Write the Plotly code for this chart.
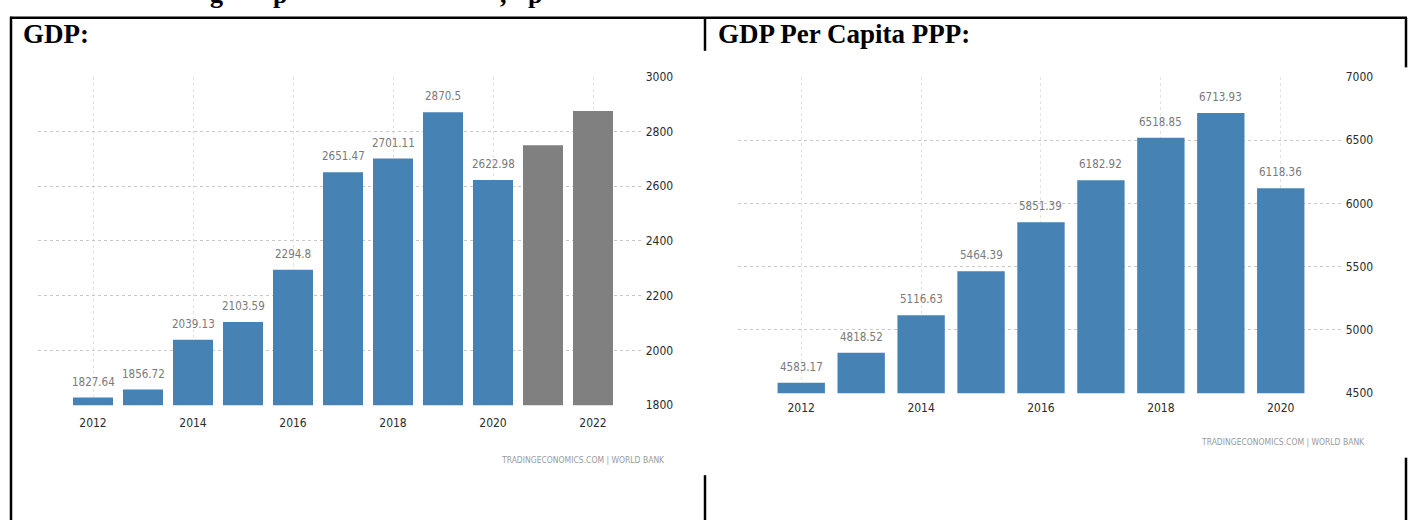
import plotly.graph_objects as go

W, H = 1410, 527

# ---- GDP (USD billion) ----
gdp_years = [2012, 2013, 2014, 2015, 2016, 2017, 2018, 2019, 2020, 2021, 2022]
gdp_values = [1827.64, 1856.72, 2039.13, 2103.59, 2294.8, 2651.47, 2701.11, 2870.5, 2622.98, 2750, 2875]
gdp_is_forecast = [False, False, False, False, False, False, False, False, False, True, True]
gdp_xticks = [2012, 2014, 2016, 2018, 2020, 2022]
gdp_yticks = [1800, 2000, 2200, 2400, 2600, 2800, 3000]

# ---- GDP per capita PPP (USD) ----
ppp_years = [2012, 2013, 2014, 2015, 2016, 2017, 2018, 2019, 2020]
ppp_values = [4583.17, 4818.52, 5116.63, 5464.39, 5851.39, 6182.92, 6518.85, 6713.93, 6118.36]
ppp_xticks = [2012, 2014, 2016, 2018, 2020]
ppp_yticks = [4500, 5000, 5500, 6000, 6500, 7000]

headers = ["GDP:", "GDP Per Capita PPP:"]
source_text = "TRADINGECONOMICS.COM | WORLD BANK"

BLUE = "#4682b4"
GREY = "#808080"
NARROW = "Liberation Sans Narrow, Arial Narrow, DejaVu Sans Condensed, sans-serif"
SERIF = "Liberation Serif, Times New Roman, serif"


def px(p):
    return p / W


def py(p):
    return 1 - p / H


fig = go.Figure()

fig.add_trace(go.Bar(
    x=gdp_years, y=gdp_values, width=0.8,
    marker=dict(color=[GREY if f else BLUE for f in gdp_is_forecast], line=dict(width=0)),
    xaxis="x", yaxis="y", hoverinfo="x+y",
))
fig.add_trace(go.Bar(
    x=ppp_years, y=ppp_values, width=0.79,
    marker=dict(color=BLUE, line=dict(width=0)),
    xaxis="x2", yaxis="y2", hoverinfo="x+y",
))

value_font = dict(family=NARROW, size=11.5, color="#7a7a7a")
annotations = []
# value labels above the reported (non-forecast) bars
for yr, v, f in zip(gdp_years, gdp_values, gdp_is_forecast):
    if not f:
        annotations.append(dict(x=yr, y=v, xref="x", yref="y", text=format(v, "g"),
                                showarrow=False, yanchor="middle", yshift=16, font=value_font))
for yr, v in zip(ppp_years, ppp_values):
    annotations.append(dict(x=yr, y=v, xref="x2", yref="y2", text=format(v, "g"),
                            showarrow=False, yanchor="middle", yshift=16, font=value_font))

# cell headers
head_font = dict(family=SERIF, size=27, color="black", weight="bold")
annotations.append(dict(x=px(21), y=py(28.2), xref="paper", yref="paper", text=headers[0],
                        showarrow=False, xanchor="left", yanchor="middle", font=head_font))
annotations.append(dict(x=px(716), y=py(28.2), xref="paper", yref="paper", text=headers[1],
                        showarrow=False, xanchor="left", yanchor="middle", font=head_font))

# descenders of the heading line that runs above the table
desc_font = dict(family=SERIF, size=26, color="black", weight="bold")
for ch, cx in [("g", 216), ("p", 280), (",", 503), ("p", 535)]:
    annotations.append(dict(x=px(cx), y=py(-12.5), xref="paper", yref="paper", text=ch,
                            showarrow=False, xanchor="center", yanchor="middle", font=desc_font))

# source credits
src_font = dict(family=NARROW, size=8.5, color="#9a9a9a")
annotations.append(dict(x=px(667), y=py(465), xref="paper", yref="paper", text=source_text,
                        showarrow=False, xanchor="right", yanchor="middle", font=src_font))
annotations.append(dict(x=px(1367), y=py(447), xref="paper", yref="paper", text=source_text,
                        showarrow=False, xanchor="right", yanchor="middle", font=src_font))

# table borders
LINE = dict(color="black", width=2.5)
segments = [
    (10, 11, 1407, 11),      # top rule
    (11, 10, 11, 527),       # left border
    (705, 11, 705, 45),      # centre divider, above the charts
    (705, 481, 705, 527),    # centre divider, below the charts
    (1406, 11, 1406, 62),    # right border, above the chart
    (1406, 463, 1406, 527),  # right border, below the chart
]
shapes = [dict(type="line", xref="paper", yref="paper",
               x0=px(a), y0=py(b), x1=px(c), y1=py(d), line=LINE)
          for a, b, c, d in segments]

axis_font = dict(family=NARROW, size=12, color="#2b2b2b")
common_x = dict(showgrid=True, gridcolor="#e3e3e3", griddash="dot", gridwidth=1,
                zeroline=False, showline=False, ticks="", tickfont=axis_font,
                fixedrange=True)
common_y = dict(showgrid=True, gridcolor="#c8c8c8", griddash="dot", gridwidth=1,
                zeroline=False, showline=False, ticks="", side="right", tickfont=axis_font,
                ticklabelstandoff=3, fixedrange=True)

fig.update_layout(
    width=W, height=H, autosize=False,
    margin=dict(l=0, r=0, t=0, b=0),
    paper_bgcolor="white", plot_bgcolor="white",
    showlegend=False,
    xaxis=dict(common_x, domain=[px(38.3), px(641.7)], range=[2010.906, 2022.974],
               tickvals=gdp_xticks, anchor="y", ticklabelstandoff=9),
    yaxis=dict(common_y, domain=[py(409), py(71.7)], range=[1800, 3000],
               tickvals=gdp_yticks, anchor="x"),
    xaxis2=dict(common_x, domain=[px(738.3), px(1341.7)], range=[2010.95, 2021.017],
                tickvals=ppp_xticks, anchor="y2", ticklabelstandoff=6),
    yaxis2=dict(common_y, domain=[py(396.7), py(71.7)], range=[4500, 7000],
                tickvals=ppp_yticks, anchor="x2"),
    annotations=annotations,
    shapes=shapes,
)

fig.write_html("out.html")
